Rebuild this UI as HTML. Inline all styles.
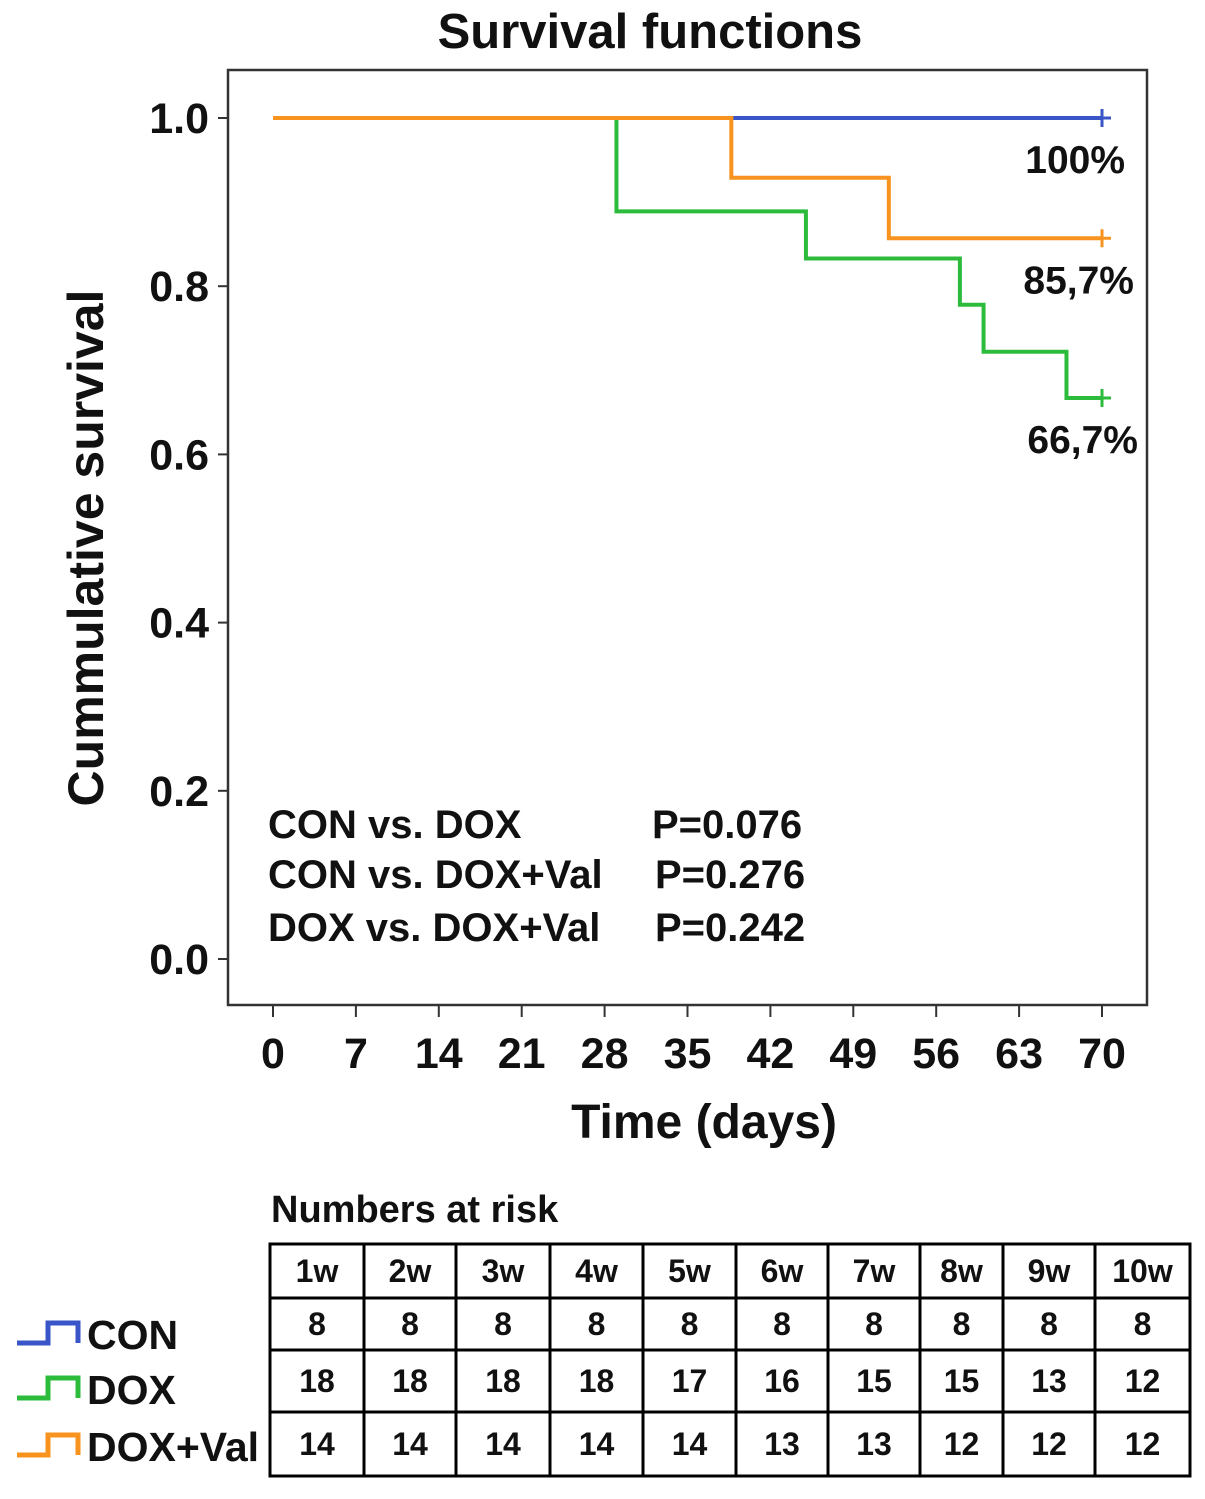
<!DOCTYPE html>
<html><head><meta charset="utf-8"><style>
body{margin:0;background:#fff;}
svg text{font-family:"Liberation Sans",Arial,sans-serif;font-weight:bold;fill:#111;}
</style></head><body>
<svg width="1205" height="1494" xmlns="http://www.w3.org/2000/svg">
<text x="650" y="48" font-size="49" text-anchor="middle">Survival functions</text>
<rect x="228" y="70" width="919" height="935" fill="none" stroke="#333" stroke-width="2.5"/>
<g id="yticks"></g>
<g id="xticks"></g>
<text transform="translate(103,548) rotate(-90)" font-size="50" text-anchor="middle">Cummulative survival</text>
<text x="704" y="1138" font-size="48" text-anchor="middle">Time (days)</text>
<g id="curves"></g>
<g id="endlabels"></g>
<g font-size="40">
<text x="268" y="838">CON vs. DOX</text><text x="652" y="838">P=0.076</text>
<text x="268" y="888">CON vs. DOX+Val</text><text x="655" y="888">P=0.276</text>
<text x="268" y="941">DOX vs. DOX+Val</text><text x="655" y="941">P=0.242</text>
</g>
<text x="271" y="1222" font-size="38">Numbers at risk</text>
<g id="table"></g>
<g id="legend"></g>
</svg>
<script>
const yTicks=[0,0.2,0.4,0.6,0.8,1.0];
const xTicks=[0,7,14,21,28,35,42,49,56,63,70];
const conTimes=[0,70], conSurv=[1,1];
const doxTimes=[0,29,45,58,60,67,70], doxSurv=[1,0.889,0.833,0.778,0.722,0.667,0.667];
const valTimes=[0,38.7,52,70], valSurv=[1,0.929,0.857,0.857];
const endLabels=["100%","85,7%","66,7%"];
const weeks=["1w","2w","3w","4w","5w","6w","7w","8w","9w","10w"];
const riskCon=[8,8,8,8,8,8,8,8,8,8];
const riskDox=[18,18,18,18,17,16,15,15,13,12];
const riskVal=[14,14,14,14,14,13,13,12,12,12];
const NS="http://www.w3.org/2000/svg";
const X=d=>273+d*(1102-273)/70, Y=v=>959-v*(959-118);
function mk(tag,attrs,parent,txt){const e=document.createElementNS(NS,tag);for(const k in attrs)e.setAttribute(k,attrs[k]);if(txt!==undefined)e.textContent=txt;parent.appendChild(e);return e;}
const yg=document.getElementById('yticks');
yTicks.forEach(v=>{
 const l=mk('line',{x1:218,x2:228,y1:Y(v),y2:Y(v),stroke:'#333','stroke-width':2},yg);
 
 
 const t=mk('text',{x:209,y:Y(v)+15,'font-size':43,'text-anchor':'end'},yg,v.toFixed(1));
 
 
});
const xg=document.getElementById('xticks');
xTicks.forEach(d=>{
 const l=mk('line',{x1:X(d),x2:X(d),y1:1005,y2:1017,stroke:'#333','stroke-width':2},xg);
 
 
 const t=mk('text',{x:X(d),y:1068,'font-size':43,'text-anchor':'middle'},xg,String(d));
 
 
});
const cg=document.getElementById('curves');
function step(ts,ss,color,name){
 let d='M'+X(ts[0])+','+Y(ss[0]);
 for(let i=1;i<ts.length;i++){d+=' H'+X(ts[i])+' V'+Y(ss[i]);}
 const p=mk('path',{d:d,fill:'none',stroke:color,'stroke-width':4},cg);
 
 
 const xe=X(ts[ts.length-1]),ye=Y(ss[ss.length-1]);
 const c=mk('path',{d:`M${xe},${ye-9}V${ye+9}M${xe-9},${ye}H${xe+9}`,stroke:color,'stroke-width':3},cg);
 
 
}
step(conTimes,conSurv,'#3a55c8','con-curve');
step(doxTimes,doxSurv,'#2dbb3c','dox-curve');
step(valTimes,valSurv,'#f7931e','dox-val-curve');
const eg=document.getElementById('endlabels');
const endY=[conSurv[conSurv.length-1],valSurv[valSurv.length-1],doxSurv[doxSurv.length-1]];
const endX=[1125,1134,1138];
endLabels.forEach((s,i)=>{
 const t=mk('text',{x:endX[i],y:Y(endY[i])+55,'font-size':39,'text-anchor':'end'},eg,s);
 
 
});
const tg=document.getElementById('table');
const colX=[270,364,456,550,643,736,828,920,1003,1095,1190];
const rowY=[1244,1298,1350,1412,1476];
mk('rect',{x:270,y:1244,width:920,height:232,fill:'none',stroke:'#000','stroke-width':3},tg);
colX.slice(1,-1).forEach(x=>mk('line',{x1:x,x2:x,y1:1244,y2:1476,stroke:'#000','stroke-width':3},tg));
rowY.slice(1,-1).forEach(y=>mk('line',{x1:270,x2:1190,y1:y,y2:y,stroke:'#000','stroke-width':3},tg));
const rows=[weeks,riskCon,riskDox,riskVal];
rows.forEach((r,ri)=>r.forEach((v,ci)=>{
 const t=mk('text',{x:(colX[ci]+colX[ci+1])/2,y:(rowY[ri]+rowY[ri+1])/2+11,'font-size':32,'text-anchor':'middle'},tg,String(v));
 
 
}));
const lg=document.getElementById('legend');
[['CON','#3a55c8',1335],['DOX','#2dbb3c',1390],['DOX+Val','#f7931e',1447]].forEach(([n,c,y])=>{
 const p=mk('path',{d:`M17,${y+8}H48V${y-12}H78V${y+8}`,fill:'none',stroke:c,'stroke-width':5},lg);
 
 
 const t=mk('text',{x:87,y:y+14,'font-size':41},lg,n);
 
 
});
</script>
</body></html>
